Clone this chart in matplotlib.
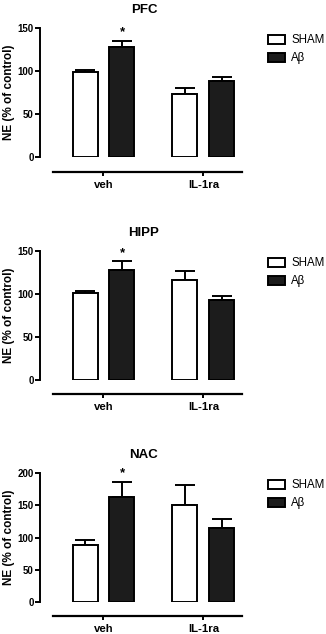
import numpy as np
import matplotlib.pyplot as plt
from matplotlib.patches import Patch

plt.rcParams['font.family'] = ['Liberation Sans', 'DejaVu Sans']

groups = ['veh', 'IL-1ra']
series = ['SHAM', 'A\u03b2']

regions = ['PFC', 'HIPP', 'NAC']
sham_mean = {'PFC': [99, 73], 'HIPP': [101, 116], 'NAC': [89, 151]}
sham_sem = {'PFC': [2, 7], 'HIPP': [3, 11], 'NAC': [7, 30]}
abeta_mean = {'PFC': [128, 88], 'HIPP': [128, 93], 'NAC': [163, 114]}
abeta_sem = {'PFC': [7, 5], 'HIPP': [10, 5], 'NAC': [23, 15]}
ymax = {'PFC': 150, 'HIPP': 150, 'NAC': 200}
ystep = {'PFC': 50, 'HIPP': 50, 'NAC': 50}
star_group = 0  # significant A-beta vs SHAM in veh

W, H = 326, 634
fig = plt.figure(figsize=(W / 100, H / 100), dpi=100)

# axes placement in pixels: y of zero line, x-axis offset below it
panel_zero = [157, 380, 602]
panel_off = [15, 14, 14]
ax_h = 129
ax_left, ax_right = 40, 248

x = np.arange(len(groups))
off, bw = 0.185, 0.25
lw = 1.4

for reg, y0, xo in zip(regions, panel_zero, panel_off):
    ax = fig.add_axes([ax_left / W, (H - y0) / H, (ax_right - ax_left) / W, ax_h / H])
    ax.bar(x - off, sham_mean[reg], bw, color='white', edgecolor='black', linewidth=lw, zorder=3)
    ax.bar(x + off, abeta_mean[reg], bw, color='#1c1c1c', edgecolor='black', linewidth=lw, zorder=3)
    ax.errorbar(x - off, sham_mean[reg], yerr=[np.zeros(2), sham_sem[reg]], fmt='none',
                ecolor='black', elinewidth=lw, capsize=7, capthick=lw, zorder=2)
    ax.errorbar(x + off, abeta_mean[reg], yerr=[np.zeros(2), abeta_sem[reg]], fmt='none',
                ecolor='black', elinewidth=lw, capsize=7, capthick=lw, zorder=2)
    i = star_group
    ax.text(x[i] + off, abeta_mean[reg][i] + abeta_sem[reg][i] + ymax[reg] * 0.02, '*',
            ha='center', va='bottom', fontsize=9.5, fontweight='bold', clip_on=False)

    # spines first: moving a spine resets the ticks
    ax.spines['top'].set_visible(False)
    ax.spines['right'].set_visible(False)
    ax.spines['left'].set_linewidth(lw)
    ax.spines['bottom'].set_linewidth(1.6)
    ax.spines['bottom'].set_position(('outward', xo * 0.72))
    ax.spines['bottom'].set_bounds(-0.505, 1.385)

    ax.set_xlim(-0.635, 1.445)
    ax.set_ylim(0, ymax[reg])
    ax.set_yticks(np.arange(0, ymax[reg] + 1, ystep[reg]))
    ax.set_xticks(x, groups)
    ax.tick_params(axis='y', length=3.5, width=lw, pad=1)
    ax.tick_params(axis='x', length=3, width=lw, pad=2.5)
    for lab in ax.get_yticklabels():
        lab.set_fontsize(7)
        lab.set_fontweight('bold')
    for lab in ax.get_xticklabels():
        lab.set_fontsize(8.2)
        lab.set_fontweight('bold')
    ax.set_ylabel('NE (% of control)', fontsize=8.5, fontweight='bold', labelpad=2)
    ax.set_title(reg, fontsize=9.5, fontweight='bold', pad=11)

    handles = [Patch(facecolor='white', edgecolor='black', linewidth=lw),
               Patch(facecolor='#1c1c1c', edgecolor='black', linewidth=lw)]
    ax.legend(handles, series, loc='upper left', bbox_to_anchor=(258 / W, (H - y0 + ax_h + 4) / H),
              bbox_transform=fig.transFigure, frameon=False, fontsize=8.3,
              handlelength=1.4, handleheight=0.8, handletextpad=0.6, labelspacing=0.5)

fig.savefig('out.png', dpi=100)
